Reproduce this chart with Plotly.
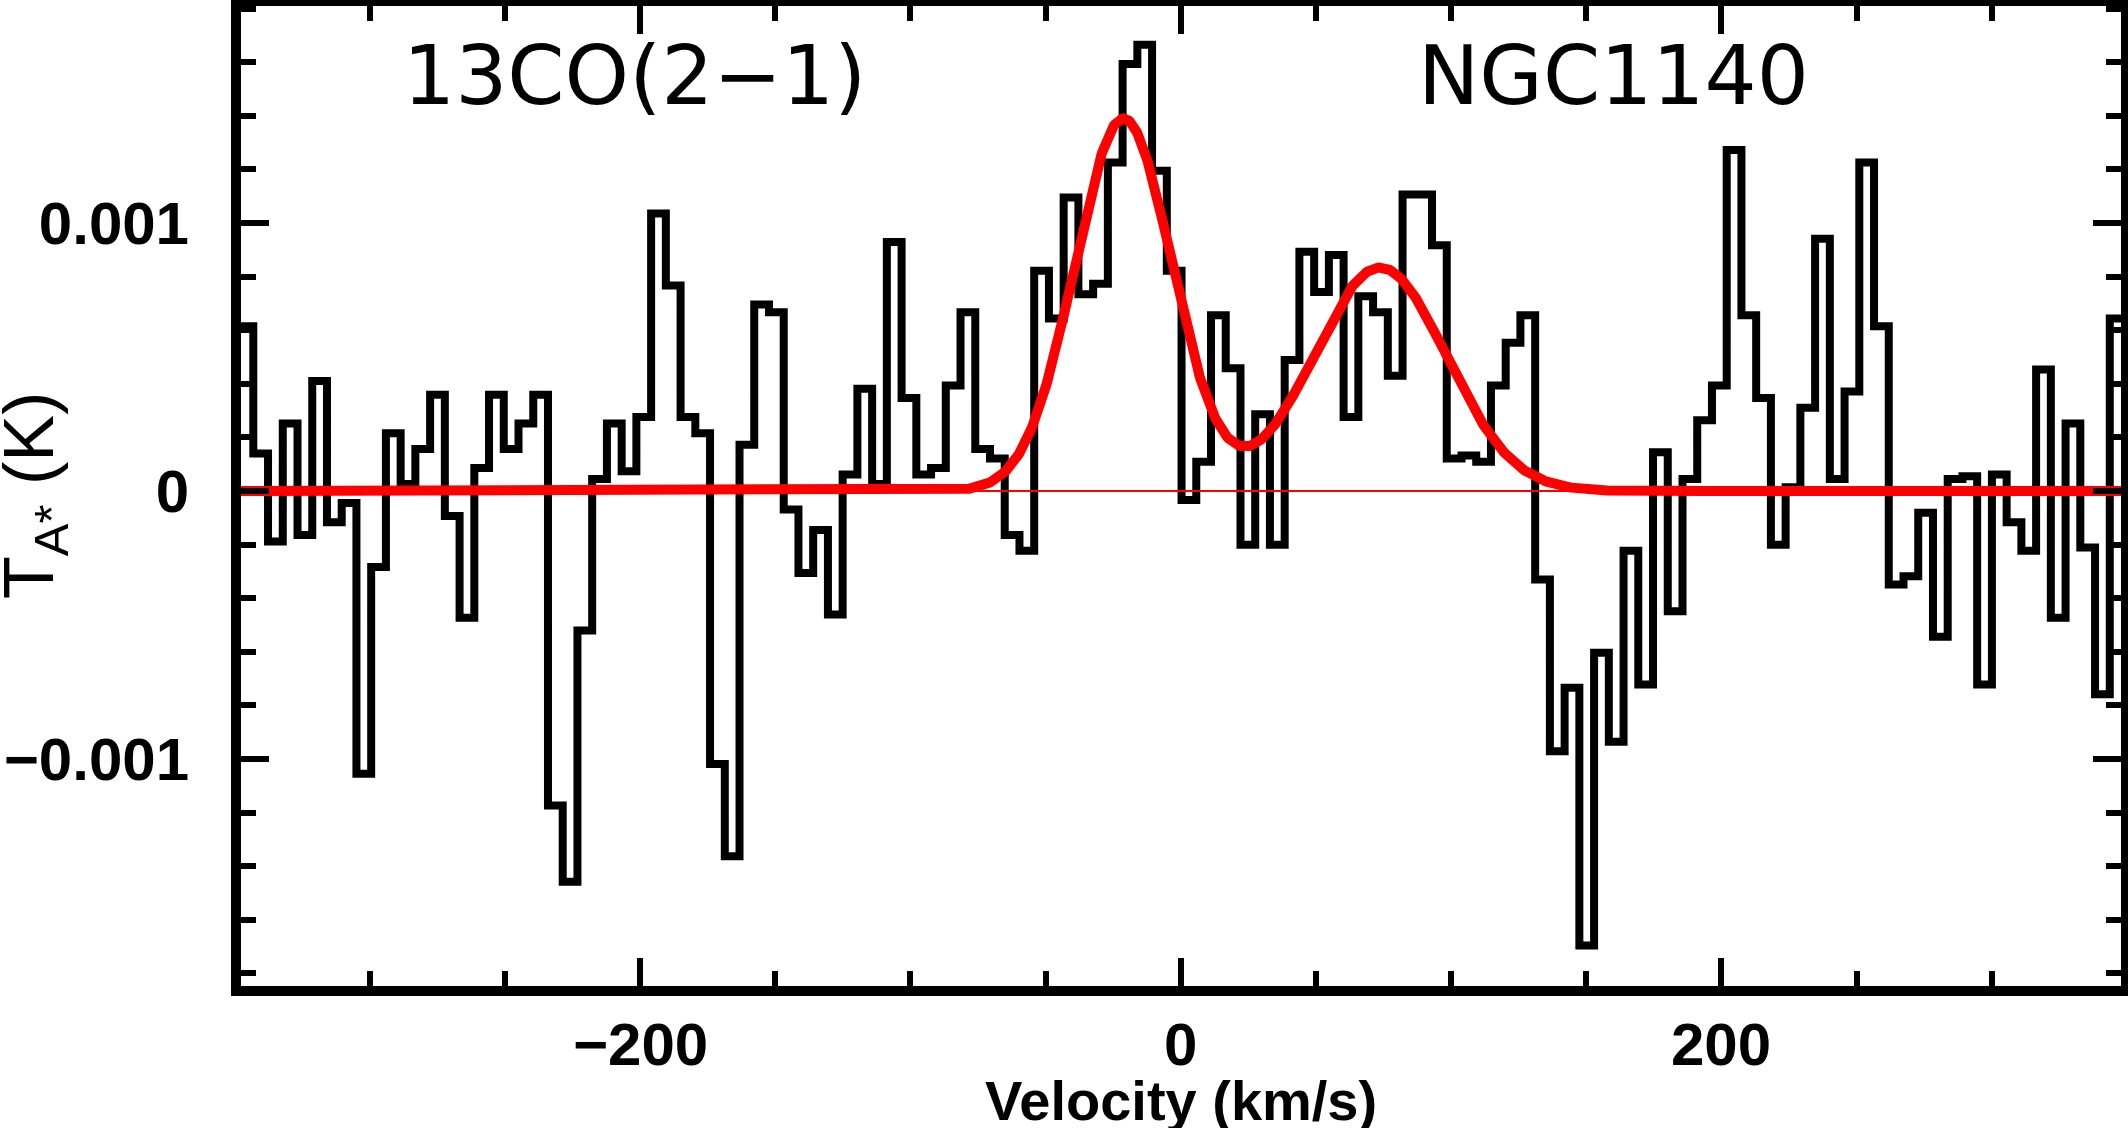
import numpy as np
import plotly.graph_objects as go

# ---------------- data ----------------
# spectral axis: channel grid (km/s)
FIRST_EDGE = -348.5       # left edge of first channel
CHANNEL_WIDTH = 5.45      # km/s
# antenna temperature per channel (K)
TA = [
    0.000615, 0.000140, -0.000188, 0.000252, -0.000164, 0.000411, -0.000116, -0.000045,
    -0.001055, -0.000283, 0.000216, 0.000026, 0.000157, 0.000359, -0.000093, -0.000473,
    0.000086, 0.000359, 0.000157, 0.000252, 0.000359, -0.001173, -0.001458, -0.000520,
    0.000045, 0.000252, 0.000074, 0.000276, 0.001036, 0.000767, 0.000276, 0.000216,
    -0.001019, -0.001363, 0.000173, 0.000696, 0.000667, -0.000069, -0.000306, -0.000145,
    -0.000461, 0.000062, 0.000382, 0.000026, 0.000929, 0.000347, 0.000062, 0.000086,
    0.000394, 0.000667, 0.000157, 0.000121, -0.000164, -0.000223, 0.000822, 0.000644,
    0.001095, 0.000734, 0.000774, 0.001226, 0.001594, 0.001665, 0.001195, 0.000822,
    -0.000033, 0.000109, 0.000656, 0.000458, -0.000200, 0.000287, -0.000200, 0.000489,
    0.000893, 0.000743, 0.000881, 0.000276, 0.000727, 0.000667, 0.000430, 0.001107,
    0.001107, 0.000917, 0.000121, 0.000133, 0.000109, 0.000394, 0.000553, 0.000656,
    -0.000330, -0.000971, -0.000734, -0.001696, -0.000603, -0.000936, -0.000223, -0.000722,
    0.000145, -0.000449, 0.000045, 0.000264, 0.000394, 0.001273, 0.000656, 0.000347,
    -0.000200, 0.000014, 0.000311, 0.000941, 0.000045, 0.000371, 0.001226, 0.000615,
    -0.000349, -0.000318, -0.000081, -0.000544, 0.000045, 0.000055, -0.000722, 0.000062,
    -0.000116, -0.000223, 0.000454, -0.000473, 0.000252, -0.000211, -0.000758, 0.000644,
]
# two-component Gaussian fit
FIT_AMPLITUDE = [0.00139, 0.000834]   # K
FIT_CENTER = [-21.2, 73.7]            # km/s
FIT_SIGMA = [18.0, 24.5]              # km/s

X_RANGE = [-347.6, 347.8]
Y_RANGE = [-0.001847, 0.00181]
X_TICKS = [-200, 0, 200]
X_TICK_TEXT = ["\u2212200", "0", "200"]
Y_TICKS = [-0.001, 0, 0.001]
Y_TICK_TEXT = ["\u22120.001", "0", "0.001"]
LINE_NAME = "13CO(2\u22121)"
SOURCE = "NGC1140"
X_TITLE = "Velocity (km/s)"
Y_TITLE = "T<sub>A*</sub> (K)"

# ---------------- build ----------------
n = len(TA)
edges = FIRST_EDGE + CHANNEL_WIDTH * np.arange(n + 1)
step_x = list(edges)
step_y = list(TA) + [TA[-1]]

v_fine = np.linspace(X_RANGE[0] - 5, X_RANGE[1] + 5, 2000)
fit = np.zeros_like(v_fine)
for a, c, s in zip(FIT_AMPLITUDE, FIT_CENTER, FIT_SIGMA):
    fit += a * np.exp(-0.5 * ((v_fine - c) / s) ** 2)

fig = go.Figure()
fig.add_trace(go.Scatter(x=step_x, y=step_y, mode="lines",
                         line=dict(color="black", width=8, shape="hv"),
                         hoverinfo="skip", showlegend=False))
fig.add_trace(go.Scatter(x=[X_RANGE[0] - 5, X_RANGE[1] + 5], y=[0, 0], mode="lines",
                         line=dict(color="#ff0000", width=2),
                         hoverinfo="skip", showlegend=False))
fig.add_trace(go.Scatter(x=v_fine, y=fit, mode="lines",
                         line=dict(color="#ff0000", width=10),
                         hoverinfo="skip", showlegend=False))

tickfont = dict(family="Liberation Sans", size=60, color="black", weight="bold")
common = dict(showgrid=False, zeroline=False, showline=True, linecolor="black",
              linewidth=10, mirror="ticks", ticks="inside", tickcolor="black",
              tickwidth=6, ticklen=28, tickfont=tickfont, automargin=False)

fig.update_xaxes(range=X_RANGE, tickmode="array", tickvals=X_TICKS, ticktext=X_TICK_TEXT,
                 showticklabels=False,
                 minor=dict(dtick=50, tick0=0, ticks="inside", ticklen=15, tickwidth=6,
                            tickcolor="black"),
                 **common)
fig.update_yaxes(range=Y_RANGE, tickmode="array", tickvals=Y_TICKS, ticktext=Y_TICK_TEXT,
                 minor=dict(dtick=0.0002, tick0=0, ticks="inside", ticklen=15, tickwidth=6,
                            tickcolor="black"),
                 ticklabelstandoff=30, **common)

# x tick labels under the axis
for tv, tt in zip(X_TICKS, X_TICK_TEXT):
    fig.add_annotation(x=tv, y=0, xref="x", yref="paper", text=tt, showarrow=False,
                       xanchor="center", yanchor="middle", yshift=-58,
                       font=tickfont)

fig.add_annotation(x=-202, y=0.00155, xref="x", yref="y", text=LINE_NAME, showarrow=False,
                   xanchor="center", yanchor="middle",
                   font=dict(family="DejaVu Sans", size=82, color="black"))
fig.add_annotation(x=160, y=0.00155, xref="x", yref="y", text=SOURCE, showarrow=False,
                   xanchor="center", yanchor="middle",
                   font=dict(family="DejaVu Sans", size=82, color="black"))
fig.add_annotation(x=0, y=0, xref="x", yref="paper", text=X_TITLE, showarrow=False,
                   xanchor="center", yanchor="middle", yshift=-114,
                   font=dict(family="Liberation Sans", size=56, color="black", weight="bold"))
fig.add_annotation(x=0, y=0.5, xref="paper", yref="paper", text=Y_TITLE,
                   showarrow=False, textangle=-90, xanchor="center", yanchor="middle",
                   xshift=-207,
                   font=dict(family="Liberation Sans", size=70, color="black"))

fig.update_layout(width=2128, height=1128, margin=dict(l=241, r=7, t=6, b=142),
                  paper_bgcolor="white", plot_bgcolor="white", showlegend=False)

fig.write_html("out.html", config={"displayModeBar": False},
               post_script="document.body.style.margin='0px';")
